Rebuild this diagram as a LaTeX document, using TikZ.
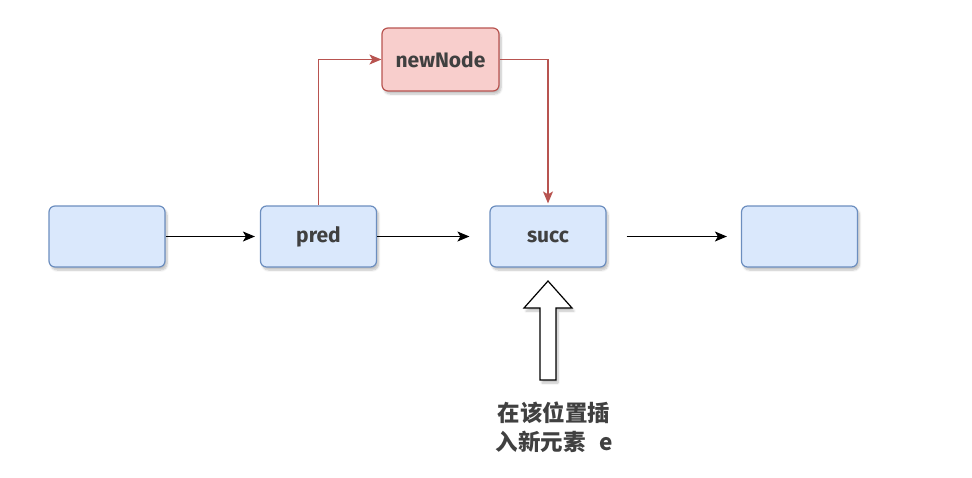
\documentclass[tikz,border=0pt]{standalone}
\usepackage{fontspec}
\setmainfont{Fira Sans}
\newfontfamily\cjk{Noto Sans CJK SC}
\usetikzlibrary{arrows.meta,shadows.blur}
\definecolor{bluefill}{HTML}{DAE8FC}
\definecolor{bluedraw}{HTML}{6C8EBF}
\definecolor{redfill}{HTML}{F8CECC}
\definecolor{reddraw}{HTML}{B85450}
\definecolor{txt}{HTML}{404040}
\tikzset{
  shad/.style={blur shadow={shadow xshift=2pt,shadow yshift=-3pt,shadow opacity=25,shadow blur steps=6}},
  bluebox/.style={draw=bluedraw,fill=bluefill,line width=1.2pt,rounded corners=6pt,
    minimum width=116pt,minimum height=61pt,shad,text=txt,font=\fontsize{21}{24}\selectfont\bfseries},
  redbox/.style={bluebox,draw=reddraw,fill=redfill,minimum height=63pt,minimum width=117pt},
  arr/.style={-{Stealth[length=12pt,width=10pt,inset=3pt]},line width=1.2pt,black},
  rarr/.style={arr,reddraw},
  label/.style={text=txt,align=center,font=\cjk\bfseries\fontsize{22.5}{29}\selectfont}
}
\begin{document}
\begin{tikzpicture}[x=1pt,y=-1pt]
\useasboundingbox (0,0) rectangle (972,477);
\node[bluebox] (n1) at (107,236.5) {};
\node[bluebox] (pred) at (318.5,236.5) {\raisebox{-3pt}{pred}};
\node[bluebox] (succ) at (548,236.5) {\raisebox{-3pt}{succ}};
\node[bluebox] (n4) at (799.5,236.5) {};
\node[redbox] (nn) at (440.5,59.5) {\raisebox{-2pt}{newNode}};
\draw[arr,shorten >=5pt] (n1) -- (pred);
\draw[arr,shorten >=20pt] (pred) -- (succ);
\draw[arr,shorten <=20pt,shorten >=14pt] (succ) -- (n4);
\draw[rarr] (pred.north) |- (nn.west);
\draw[rarr,shorten >=2pt] (nn.east) -| (succ.north);
\coordinate (tip) at (548,281);
\draw[fill=white,line width=1.2pt,shad] (tip) -- (572,308) -- (556,308) -- (556,380) -- (540,380) -- (540,308) -- (524,308) -- cycle;
\node[label] (lab) at (554,427) {在该位置插\\入新元素\hspace{0.6em}e};
\end{tikzpicture}
\end{document}
